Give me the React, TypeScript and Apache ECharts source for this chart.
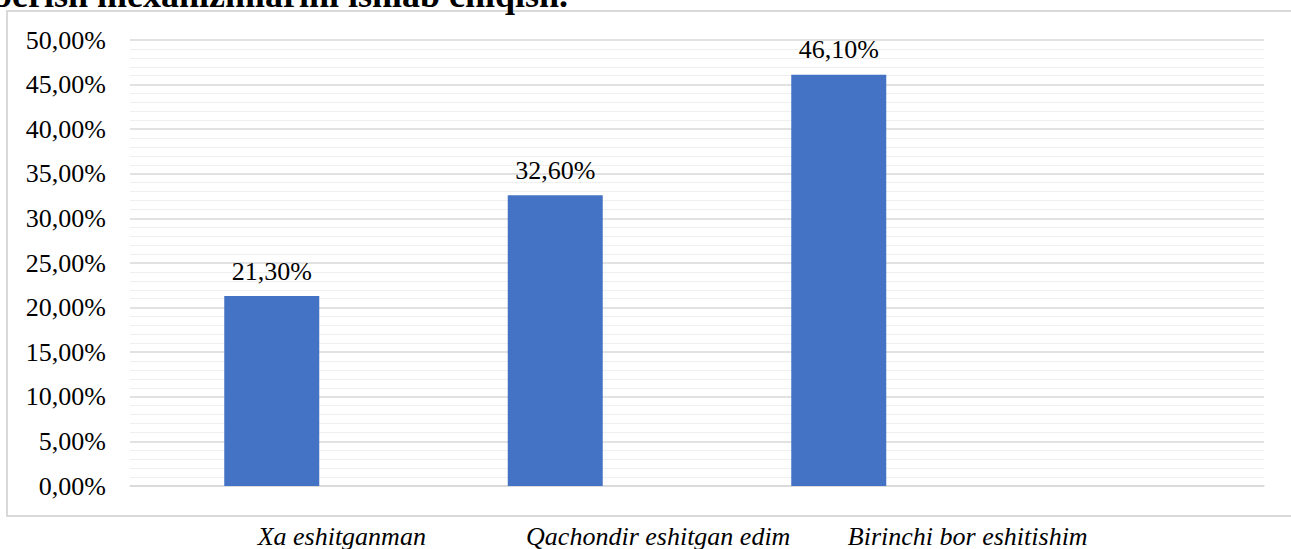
import React, { useEffect, useRef } from "react";
import * as echarts from "echarts";

const categories = ["Xa eshitganman", "Qachondir eshitgan edim", "Birinchi bor eshitishim", ""];
const values = [21.3, 32.6, 46.1, null];
const labelShift = [140, 206, 258, 0];
const titleText = "berish mexanizmlarini ishlab chiqish.";
const yMin = 0;
const yMax = 50;
const yStep = 5;

const FONT = "Liberation Serif, Times New Roman, serif";
const fmt = (v: number) => v.toFixed(2).replace(".", ",") + "%";

export default function App() {
  const ref = useRef<HTMLDivElement>(null);
  useEffect(() => {
    document.body.style.margin = "0";
    const chart = echarts.init(ref.current!, undefined, { renderer: "svg" });
    chart.setOption({
      animation: false,
      backgroundColor: "#ffffff",
      textStyle: { fontFamily: FONT },
      grid: { left: 130, right: 27, top: 40, bottom: 62, containLabel: false },
      xAxis: {
        type: "category",
        data: categories.map((c, i) => ({
          value: c,
          textStyle: { padding: [0, 0, 0, labelShift[i]] },
        })),
        axisLine: { show: true, lineStyle: { color: "#d9d9d9", width: 1.5 } },
        axisTick: { show: false },
        axisLabel: {
          interval: 0,
          margin: 37,
          color: "#000",
          fontFamily: FONT,
          fontStyle: "italic",
          fontSize: 26,
        },
      },
      yAxis: {
        type: "value",
        min: yMin,
        max: yMax,
        interval: yStep,
        axisLine: { show: false },
        axisTick: { show: false },
        axisLabel: {
          margin: 24,
          color: "#000",
          fontFamily: FONT,
          fontSize: 26,
          formatter: (v: number) => fmt(v),
        },
        splitLine: { show: true, lineStyle: { color: "#d9d9d9", width: 1.5 } },
        minorTick: { show: false, splitNumber: 5 },
        minorSplitLine: { show: true, lineStyle: { color: "#efefef", width: 1 } },
      },
      series: [
        {
          type: "bar",
          data: values,
          barWidth: 95,
          itemStyle: { color: "#4472c4" },
          label: {
            show: true,
            position: "top",
            distance: 12,
            color: "#000",
            fontFamily: FONT,
            fontSize: 26,
            formatter: (p: any) => fmt(p.value),
          },
        },
      ],
      graphic: [
        {
          type: "rect",
          silent: true,
          shape: { x: 7, y: 11, width: 1320, height: 505 },
          style: { fill: "none", stroke: "#d9d9d9", lineWidth: 2 },
        },
        {
          type: "text",
          silent: true,
          x: -8,
          y: -5,
          style: {
            text: titleText,
            fill: "#000",
            fontFamily: FONT,
            fontWeight: "bold",
            fontSize: 36,
            verticalAlign: "middle",
            align: "left",
          },
        },
      ],
    });
    return () => chart.dispose();
  }, []);
  return <div ref={ref} style={{ width: 1291, height: 549 }} />;
}
